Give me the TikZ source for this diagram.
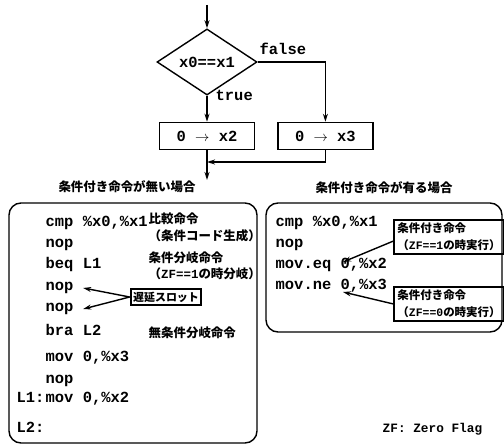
\documentclass[tikz,border=0pt]{standalone}
\usepackage{fontspec}
\newfontfamily\cdfont{Liberation Mono}
\newfontfamily\jpfont{Noto Sans CJK JP}
\usetikzlibrary{arrows.meta,shapes.geometric,positioning}

\newcommand\asc[1]{{\cdfont\bfseries #1}}

\begin{document}
\begin{tikzpicture}[x=1bp,y=-1bp,
  >={Stealth[length=8bp,width=5bp]},
  every path/.style={line width=1.4bp},
  decision/.style={
  % The shape:
  diamond,
  minimum width=100bp,
  minimum height=50bp,
  inner sep=0pt,
  % The border:
  draw, line width=1.4bp,
  font=\cdfont\bfseries\fontsize{15.5}{18}\selectfont
  },
  assign/.style={
  rectangle,
  minimum width=95bp,
  minimum height=27bp,
  draw, line width=1.4bp,
  font=\cdfont\bfseries\fontsize{15.5}{18}\selectfont
  },
  code/.style={
  anchor=west, inner sep=0pt,
  text height=8bp, text depth=3bp,
  font=\cdfont\bfseries\fontsize{15.5}{18}\selectfont
  },
  note/.style={
  anchor=west, inner sep=0pt,
  font=\jpfont\bfseries\fontsize{12.5}{14}\selectfont
  },
  callout/.style={
  rectangle, draw, line width=1.9bp,
  inner sep=3bp, align=left,
  font=\jpfont\bfseries\fontsize{11.5}{17}\selectfont
  },
  title/.style={
  font=\jpfont\bfseries\fontsize{12.5}{14}\selectfont
  },
  panel/.style={
  draw, line width=1.4bp, rounded corners=12bp
  }]
  \useasboundingbox (0,0) rectangle (504,446);

  % flow chart
  \coordinate (start) at (207,5);
  \node (cond) [decision] at (207,62) {x0==x1};
  \node (x2) [assign,below=26bp of cond] {0 $\rightarrow$ x2};
  \node (x3) [assign,right=22bp of x2] {0 $\rightarrow$ x3};
  \node (false) [code] at (259,52) {false};
  \node (true) [code] at (215,98) {true};

  \draw[->] (start) to (cond);
  \draw[->] (cond.east) -| (x3.north);
  \draw[->] (cond.south) to (x2.north);

  \coordinate (join) at (207,162);
  \coordinate (down) at (207,180);
  \draw[->] (x2.south) to (down);
  \draw[->] (x3.south) |- (join);

  % without conditional instructions
  \node (titleL) [title] at (127,187) {条件付き命令が無い場合};
  \draw[panel] (9,203) rectangle (257,443);

  \node (c1) [code] at (45,224) {cmp \%x0,\%x1};
  \node (c2) [code] at (45,245) {nop};
  \node (c3) [code] at (45,266) {beq L1};
  \node (c4) [code] at (45,288) {nop};
  \node (c5) [code] at (45,309) {nop};
  \node (c6) [code] at (45,333) {bra L2};
  \node (c7) [code] at (45,359) {mov 0,\%x3};
  \node (c8) [code] at (45,381) {nop};
  \node (l1) [code] at (16,400) {L1:};
  \node (c9) [code] at (45,400) {mov 0,\%x2};
  \node (l2) [code] at (16,430) {L2:};

  \node (n1) [note] at (148,219) {比較命令};
  \node (n2) [note] at (148,236) {（条件コード生成）};
  \node (n3) [note] at (148,258) {条件分岐命令};
  \node (n4) [note] at (148,274) {（\asc{ZF==1}の時分岐）};
  \node (slot) [callout,inner sep=2.5bp,font=\jpfont\bfseries\fontsize{11}{13}\selectfont] at (166,297) {遅延スロット};
  \node (n5) [note] at (148,333) {無条件分岐命令};

  \draw[->] (slot.west) to ([xshift=9bp]c4.east);
  \draw[->] (slot.west) to ([xshift=9bp]c5.east);

  % with conditional instructions
  \node (titleR) [title] at (384,188) {条件付き命令が有る場合};
  \draw[panel] (266,203) rectangle (502,332);

  \node (r1) [code] at (275,224) {cmp \%x0,\%x1};
  \node (r2) [code] at (275,245) {nop};
  \node (r3) [code] at (275,266) {mov.eq 0,\%x2};
  \node (r4) [code] at (275,287) {mov.ne 0,\%x3};

  \node (eq) [callout] at (449,237) {条件付き命令\\（\asc{ZF==1}の時実行）};
  \node (ne) [callout] at (449,304) {条件付き命令\\（\asc{ZF==0}の時実行）};
  \coordinate (eqTip) at (343,262);
  \coordinate (neTip) at (343,292);
  \draw[->] ([yshift=-4bp]eq.west) to (eqTip);
  \draw[->] (ne.west) to (neTip);

  \node (zf) [code,font=\cdfont\bfseries\fontsize{12.8}{15}\selectfont] at (382,430) {ZF: Zero Flag};
\end{tikzpicture}
\end{document}
